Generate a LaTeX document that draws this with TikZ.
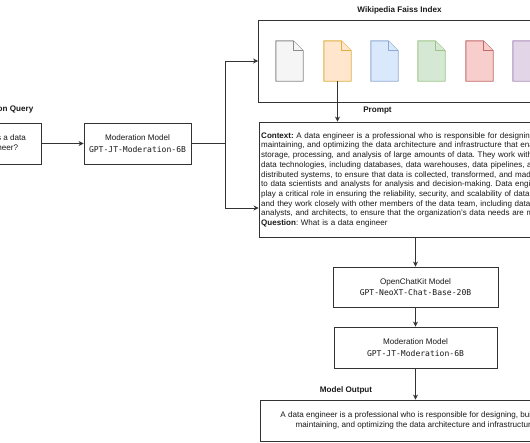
\documentclass[tikz,border=0pt]{standalone}
\usepackage{fontspec}
\setmainfont{Liberation Sans}
\newfontfamily\codefont{DejaVu Sans Mono}
\usetikzlibrary{arrows.meta,positioning}
\definecolor{ln}{HTML}{333333}
\definecolor{tx}{HTML}{1A1A1A}
\tikzset{
  x=1pt,y=-1pt,
  box/.style={draw=ln,line width=0.9pt,fill=white,inner sep=0pt,align=center,text=tx,font=\fontsize{8.1}{10.3}\selectfont},
  conn/.style={draw=ln,line width=0.8pt,-{Stealth[length=5pt,width=5pt]}},
  plain/.style={draw=ln,line width=0.8pt},
  head/.style={font=\fontsize{8.1}{10}\selectfont\bfseries,inner sep=0pt,text=tx},
  docshape/.style={inner sep=0pt,minimum width=27pt,minimum height=40pt},
  doc/.style n args={2}{fill=#1,draw=#2,line width=0.9pt,line join=round},
}
\newcommand{\mycode}[1]{{\fontsize{8.05}{10.3}\codefont #1}}
\newcommand{\docicon}[4]{%
  \node[docshape] (#1) at (#2,61) {};
  \draw[doc={#3}{#4}] (#1.south west) -- (#1.north west) -- ([xshift=-10pt]#1.north east)
     -- ([yshift=-10pt]#1.north east) -- (#1.south east) -- cycle;
  \draw[doc={#3}{#4}] ([xshift=-10pt]#1.north east) -- ([xshift=-10pt,yshift=-10pt]#1.north east) -- ([yshift=-10pt]#1.north east);
}
\definecolor{f1}{HTML}{F5F5F5}\definecolor{s1}{HTML}{8A8A8A}
\definecolor{f2}{HTML}{FFE6CC}\definecolor{s2}{HTML}{DDB040}
\definecolor{f3}{HTML}{DAE8FC}\definecolor{s3}{HTML}{8FAAD0}
\definecolor{f4}{HTML}{D5E8D4}\definecolor{s4}{HTML}{9DC488}
\definecolor{f5}{HTML}{F8CECC}\definecolor{s5}{HTML}{C06A68}
\definecolor{f6}{HTML}{E1D5E7}\definecolor{s6}{HTML}{AC8FBC}
\frenchspacing
\begin{document}
\begin{tikzpicture}
\useasboundingbox (0,0) rectangle (530,442);
\clip (0,0) rectangle (530,442);
\fill[white] (0,0) rectangle (530,442);

% boxes (several run past the picture's edges)
\node[box,minimum width=82pt,minimum height=41pt] (query) at (0,143.5)
  {What is a data\\engineer?};
\node[head,anchor=east] (qlabel) at (33.5,109.5) {Question Query};
\node[box,minimum width=107pt,minimum height=41pt] (mod1) at (137.5,143.5)
  {Moderation Model\\[1.4pt]\mycode{GPT-JT-Moderation-6B}};
\coordinate (junction) at (225.5,143.5);

\node[box,minimum width=320pt,minimum height=82pt] (faiss) at (418.5,61) {};
\node[head] (flabel) at (399.5,10) {Wikipedia Faiss Index};
\docicon{d1}{289.5}{f1}{s1}
\docicon{d2}{337.5}{f2}{s2}
\docicon{d3}{384.5}{f3}{s3}
\docicon{d4}{431.5}{f4}{s4}
\docicon{d5}{479.5}{f5}{s5}
\docicon{d6}{526.5}{f6}{s6}

\node[head] (plabel) at (377.5,111) {Prompt};
\node[box,minimum width=320pt,minimum height=115pt] (prompt) at (419,179.5) {};
\node[anchor=north west,inner sep=0pt,align=left,text width=400pt,text=tx,
      font=\fontsize{8.03}{9.72}\selectfont] (ptext) at (261,132.2) {%
\textbf{Context:} A data engineer is a professional who is responsible for designing, building,\\
maintaining, and optimizing the data architecture and infrastructure that enables the\\
storage, processing, and analysis of large amounts of data. They work with a variety of\\
data technologies, including databases, data warehouses, data pipelines, and\\
distributed systems, to ensure that data is collected, transformed, and made available\\
to data scientists and analysts for analysis and decision-making. Data engineers\\
play a critical role in ensuring the reliability, security, and scalability of data systems,\\
and they work closely with other members of the data team, including data scientists,\\
analysts, and architects, to ensure that the organization's data needs are met.\\
\textbf{Question}: What is a data engineer};

\node[box,minimum width=165pt,minimum height=40pt] (chat) at (415.5,287)
  {OpenChatKit Model\\[1.4pt]\mycode{GPT-NeoXT-Chat-Base-20B}};
\node[box,minimum width=163pt,minimum height=41pt] (mod2) at (415.5,347.5)
  {Moderation Model\\[1.4pt]\mycode{GPT-JT-Moderation-6B}};
\node[head] (olabel) at (346,390) {Model Output};
\node[box,minimum width=311pt,minimum height=41pt] (output) at (415.5,420.5)
  {A data engineer is a professional who is responsible for designing, building,\\
   maintaining, and optimizing the data architecture and infrastructure};

% connectors
\draw[conn] (query.east) -- (mod1.west);
\draw[plain] (mod1.east) -- (junction);
\draw[conn] (junction) |- (faiss.west);
\draw[conn] (junction) |- ([yshift=-28.5pt]prompt.west);
\draw[conn] (d2.south) -- (d2.south |- prompt.north);
\draw[conn] (chat.north |- prompt.south) -- (chat.north);
\draw[conn] (chat.south) -- (mod2.north);
\draw[conn] (mod2.south) -- (output.north);
\end{tikzpicture}
\end{document}
